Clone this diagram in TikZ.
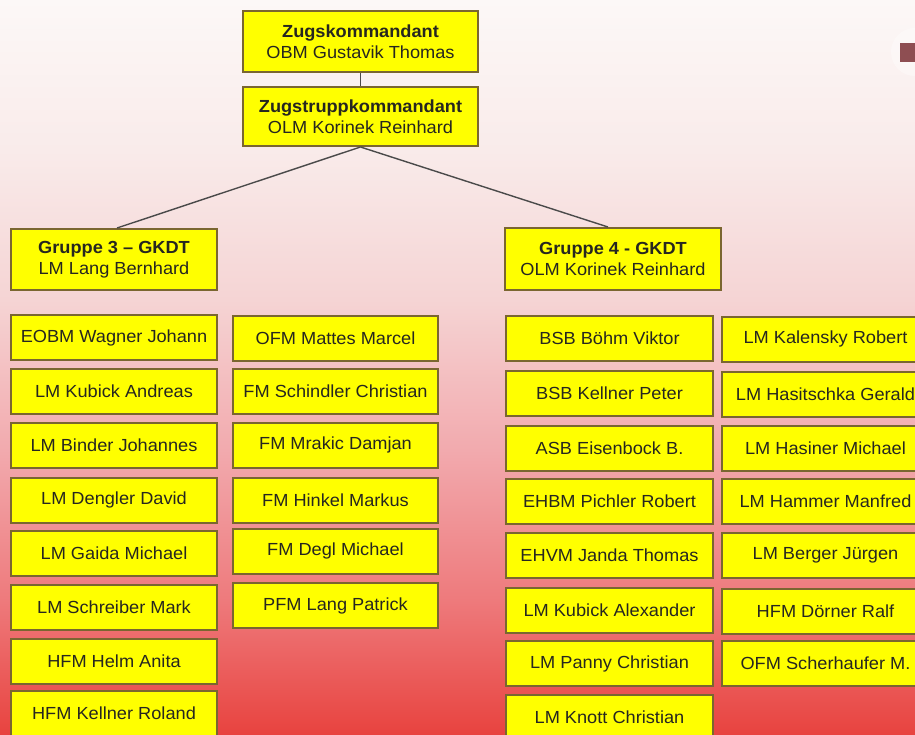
\documentclass[tikz,border=0pt]{standalone}
\usepackage{fontspec}
\setmainfont{Liberation Sans}[FakeStretch=1.04]
\definecolor{bgbot}{HTML}{E8433F}
\definecolor{bgA}{HTML}{EE7A7C}
\definecolor{bgB}{HTML}{F2AAAE}
\definecolor{bgC}{HTML}{F5D4D4}
\definecolor{bgD}{HTML}{F9EBEA}
\definecolor{bgtop}{HTML}{FCF8F7}
\definecolor{boxfill}{HTML}{FFFF00}
\definecolor{boxline}{HTML}{7A6630}
\definecolor{txt}{HTML}{262620}
\definecolor{conn}{HTML}{4A4A4A}
\definecolor{logo}{HTML}{8E4E52}
\pgfdeclareverticalshading{bgshade}{100bp}{color(0bp)=(bgbot); color(25bp)=(bgbot); color(34.2bp)=(bgA); color(44.4bp)=(bgB); color(54.6bp)=(bgC); color(64.8bp)=(bgD); color(75bp)=(bgtop); color(100bp)=(bgtop)}
\tikzset{
  pbox/.style={draw=boxline, line width=2pt, fill=boxfill, rectangle, inner sep=0pt,
    text=txt, align=center, font=\fontsize{17.5}{21}\selectfont},
  headbox/.style={pbox},
  conline/.style={draw=conn, line width=1.4pt}
}
\begin{document}
\begin{tikzpicture}[x=1pt,y=-1pt]
\useasboundingbox (0,0) rectangle (915,735);
\clip (0,0) rectangle (915,735);
\fill[shading=bgshade] (0,0) rectangle (915,735);
% logo remnant top right
\fill[white, opacity=0.35] (915,52) circle (24);
\fill[logo] (900,43) rectangle (916,62);

% headers
\node[headbox, minimum width=235pt, minimum height=61pt] (zk) at (360.5,41.5) {\textbf{Zugskommandant}\\OBM Gustavik Thomas};
\node[headbox, minimum width=235pt, minimum height=59pt] (ztk) at (360.5,116.5) {\textbf{Zugstruppkommandant}\\OLM Korinek Reinhard};
\node[headbox, minimum width=206pt, minimum height=61pt] (g3) at (114,259.5) {\textbf{Gruppe 3 – GKDT}\\LM Lang Bernhard};
\node[headbox, minimum width=216pt, minimum height=62pt] (g4) at (613,259) {\textbf{Gruppe 4 - GKDT}\\OLM Korinek Reinhard};

\draw[conline] (zk.south) -- (ztk.north);
\draw[conline] (ztk.south) -- ([xshift=3pt]g3.north);
\draw[conline] (ztk.south) -- ([xshift=-5pt]g4.north);

% column 1
\tikzset{c1/.style={pbox, minimum width=206pt, minimum height=45pt}}
\node[c1] (a1) at (114,337.5) {EOBM Wagner Johann};
\node[c1] (a2) at (114,391.5) {LM Kubick Andreas};
\node[c1] (a3) at (114,445) {LM Binder Johannes};
\node[c1] (a4) at (114,500) {LM Dengler David};
\node[c1] (a5) at (114,553.5) {LM Gaida Michael};
\node[c1] (a6) at (114,607.5) {LM Schreiber Mark};
\node[c1] (a7) at (114,661.5) {HFM Helm Anita};
\node[c1] (a8) at (114,713.5) {HFM Kellner Roland};

% column 2
\tikzset{c2/.style={pbox, minimum width=205pt, minimum height=45pt}}
\node[c2] (b1) at (335.5,338) {OFM Mattes Marcel};
\node[c2] (b2) at (335.5,391) {FM Schindler Christian};
\node[c2] (b3) at (335.5,445) {FM Mrakic Damjan};
\node[c2] (b4) at (335.5,500) {FM Hinkel Markus};
\node[c2] (b5) at (335.5,551) {FM Degl Michael};
\node[c2] (b6) at (335.5,605.5) {PFM Lang Patrick};

% column 3
\tikzset{c3/.style={pbox, minimum width=207pt, minimum height=45pt}}
\node[c3] (d1) at (609.5,338.5) {BSB Böhm Viktor};
\node[c3] (d2) at (609.5,393.5) {BSB Kellner Peter};
\node[c3] (d3) at (609.5,448) {ASB Eisenbock B.};
\node[c3] (d4) at (609.5,501) {EHBM Pichler Robert};
\node[c3] (d5) at (609.5,555.5) {EHVM Janda Thomas};
\node[c3] (d6) at (609.5,610) {LM Kubick Alexander};
\node[c3] (d7) at (609.5,663.5) {LM Panny Christian};
\node[c3] (d8) at (609.5,717) {LM Knott Christian};

% column 4
\tikzset{c4/.style={pbox, minimum width=207pt, minimum height=45pt}}
\node[c4] (e1) at (825.5,339) {LM Kalensky Robert};
\node[c4] (e2) at (825.5,394) {LM Hasitschka Gerald};
\node[c4] (e3) at (825.5,448) {LM Hasiner Michael};
\node[c4] (e4) at (825.5,501) {LM Hammer Manfred};
\node[c4] (e5) at (825.5,555.5) {LM Berger Jürgen};
\node[c4] (e6) at (825.5,611.5) {HFM Dörner Ralf};
\node[c4] (e7) at (825.5,663.5) {OFM Scherhaufer M.};
\end{tikzpicture}
\end{document}
